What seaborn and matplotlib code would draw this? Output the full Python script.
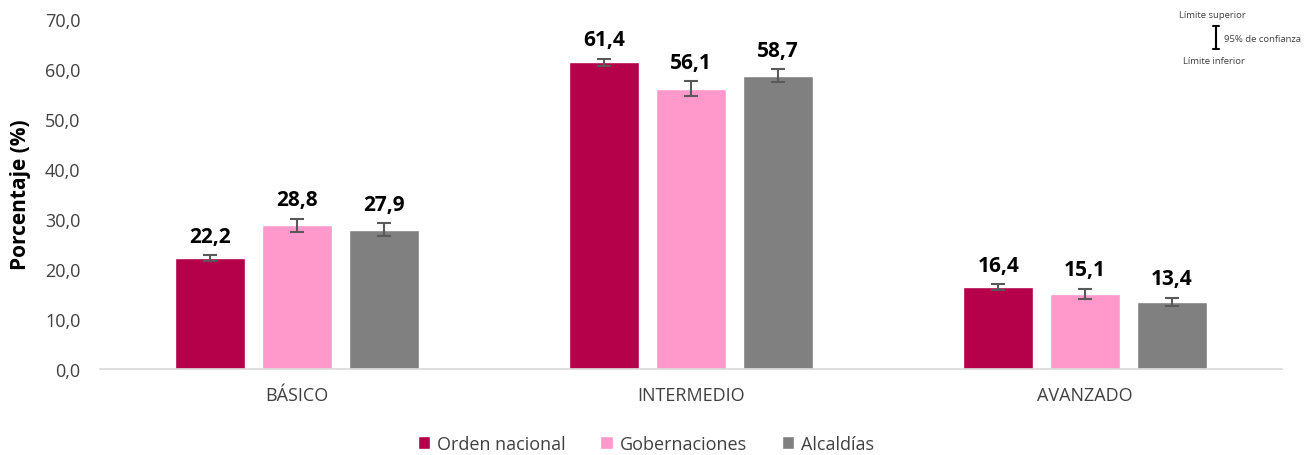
import matplotlib
matplotlib.use("Agg")
import matplotlib.pyplot as plt
import seaborn as sns
import pandas as pd
import numpy as np

categories = ["BÁSICO", "INTERMEDIO", "AVANZADO"]
series = ["Orden nacional", "Gobernaciones", "Alcaldías"]
orden = [22.2, 61.4, 16.4]
gober = [28.8, 56.1, 15.1]
alcal = [27.9, 58.7, 13.4]
err_orden = [0.6, 0.7, 0.6]
err_gober = [1.3, 1.5, 1.0]
err_alcal = [1.25, 1.25, 0.85]
yticks = [0, 10, 20, 30, 40, 50, 60, 70]
colors = ["#B5004A", "#FF99CC", "#808080"]

sns.set_theme(style="white")
plt.rcParams["font.family"] = ["Open Sans", "DejaVu Sans"]

rows = []
for s, vals, errs in zip(series, [orden, gober, alcal], [err_orden, err_gober, err_alcal]):
    for c, v, e in zip(categories, vals, errs):
        rows.append({"cat": c, "serie": s, "val": v, "err": e})
df = pd.DataFrame(rows)

fig = plt.figure(figsize=(13.11, 4.56), dpi=100)
ax = fig.add_axes([100/1311, 1-370/456, 1182/1311, 350/456])

sns.barplot(data=df, x="cat", y="val", hue="serie", order=categories, hue_order=series,
            palette=colors, width=0.66, gap=0.195, errorbar=None, ax=ax, saturation=1)

# error bars and labels
for cont, s in zip(ax.containers, series):
    sub = df[df.serie == s].set_index("cat").loc[categories]
    xs = [p.get_x() + p.get_width()/2 for p in cont.patches]
    ax.errorbar(xs, sub.val.values, yerr=sub.err.values, fmt="none", ecolor="#595959",
                elinewidth=1.5, capsize=5, capthick=1.5, zorder=5)
    for x, v, e in zip(xs, sub.val.values, sub.err.values):
        ax.annotate(f"{v:.1f}".replace(".", ","), (x, v + e), xytext=(0, 6),
                    textcoords="offset points", ha="center", va="bottom",
                    fontsize=15, fontweight="bold", color="black")

ax.set_ylim(0, 70)
ax.set_yticks(yticks)
ax.set_yticklabels([f"{t:.1f}".replace(".", ",") for t in yticks], fontsize=13, color="#404040")
ax.tick_params(axis="x", labelsize=13, labelcolor="#404040", length=0, pad=12)
ax.tick_params(axis="y", length=0, pad=14)
ax.set_xlabel("")
ax.set_ylabel("Porcentaje (%)", fontsize=15, fontweight="bold", color="black", labelpad=10)
for sp in ["top", "right", "left"]:
    ax.spines[sp].set_visible(False)
ax.spines["bottom"].set_color("#D9D9D9")
ax.spines["bottom"].set_linewidth(1.2)
ax.set_xlim(-0.5, 2.5)

ax.legend(loc="center", bbox_to_anchor=((646-100)/1182, (370-445)/350), ncol=3, frameon=False,
          fontsize=13, handlelength=0.7, handleheight=0.7, handletextpad=0.4,
          columnspacing=1.9, labelcolor="#404040", borderaxespad=0)

# confidence legend (top right)
fig.text(1212/1311, 1-16/456, "Límite superior", fontsize=6.8, ha="center", va="center", color="#404040")
fig.text(1214/1311, 1-62/456, "Límite inferior", fontsize=6.8, ha="center", va="center", color="#404040")
fig.text(1224/1311, 1-39/456, "95% de confianza", fontsize=6.8, ha="left", va="center", color="#404040")
fig.lines.append(plt.Line2D([1216/1311, 1216/1311], [1-27/456, 1-50/456], transform=fig.transFigure, color="black", lw=1.5))
fig.lines.append(plt.Line2D([1213/1311, 1219/1311], [1-27/456, 1-27/456], transform=fig.transFigure, color="black", lw=1.5))
fig.lines.append(plt.Line2D([1213/1311, 1219/1311], [1-50/456, 1-50/456], transform=fig.transFigure, color="black", lw=1.5))

fig.savefig("out.png", dpi=100)
